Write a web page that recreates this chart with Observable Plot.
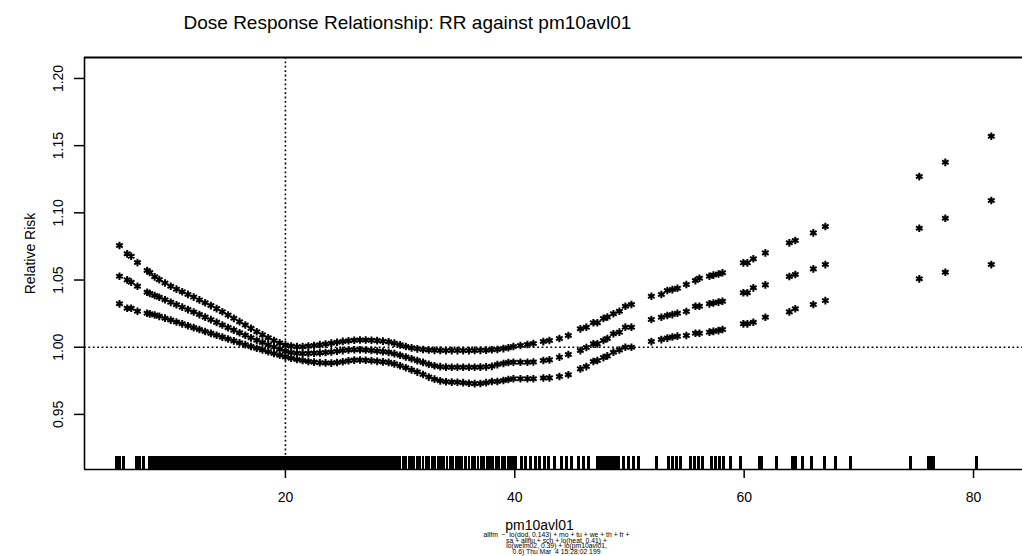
<!DOCTYPE html>
<html><head><meta charset="utf-8">
<script src="https://cdn.jsdelivr.net/npm/d3@7"></script>
<script src="https://cdn.jsdelivr.net/npm/@observablehq/plot@0.6"></script>
<style>
body{margin:0;background:#fff;}
svg{display:block;}
</style>
</head><body><div id="chart"></div>
<script>
// ---- data ----
const pm10 = [5.53, 6.20, 6.55, 7.10, 7.94, 8.17, 8.60,
  9.0, 9.5, 10.0, 10.5, 11.0, 11.5, 12.0, 12.5, 13.0, 13.5, 14.0, 14.5, 15.0, 15.5, 16.0, 16.5, 17.0, 17.5, 18.0, 18.5,
  19.0, 19.5, 20.0, 20.5, 21.0, 21.5, 22.0, 22.5, 23.0, 23.5, 24.0, 24.5, 25.0, 25.5, 26.0, 26.5, 27.0, 27.5, 28.0, 28.5,
  29.0, 29.5, 30.0, 30.5, 31.0, 31.5, 32.0, 32.5, 33.0, 33.5, 34.0, 34.5, 35.0, 35.5, 36.0, 36.5, 37.0, 37.5, 38.0,
  38.48, 39.01, 39.44, 39.88, 40.49, 41.10, 41.62, 42.49, 43.02, 43.89, 44.67, 45.72, 46.24, 46.85, 47.20, 47.73, 48.07,
  48.60, 49.12, 49.64, 50.17, 51.91, 52.78, 53.30, 53.74, 54.18, 54.96, 55.75, 56.10, 56.97, 57.32, 57.76, 58.11, 59.93,
  60.28, 60.80, 61.85, 63.94, 64.46, 66.03, 67.08, 75.27, 77.54, 81.55];

const rrUpper = [1.0757, 1.0695, 1.0677, 1.0630, 1.0571, 1.0556, 1.0524,
  1.0503, 1.0478, 1.0454, 1.0432, 1.0413, 1.0393, 1.0373, 1.0352, 1.0331, 1.0310, 1.0287, 1.0264, 1.0240, 1.0215, 1.0190, 1.0165, 1.0140, 1.0115, 1.0092, 1.0070,
  1.0049, 1.0032, 1.0017, 1.0008, 1.0004, 1.0004, 1.0008, 1.0013, 1.0019, 1.0024, 1.0030, 1.0037, 1.0043, 1.0048, 1.0052, 1.0054, 1.0054, 1.0052, 1.0049, 1.0045,
  1.0040, 1.0030, 1.0018, 1.0005, 0.9995, 0.9988, 0.9983, 0.9979, 0.9977, 0.9976, 0.9975, 0.9975, 0.9975, 0.9975, 0.9975, 0.9976, 0.9977, 0.9978, 0.9981,
  0.9983, 0.9990, 0.9996, 1.0005, 1.0013, 1.0020, 1.0028, 1.0042, 1.0050, 1.0065, 1.0087, 1.0137, 1.0149, 1.0182, 1.0182, 1.0214, 1.0225,
  1.0249, 1.0268, 1.0305, 1.0318, 1.0379, 1.0392, 1.0422, 1.0429, 1.0439, 1.0467, 1.0496, 1.0513, 1.0528, 1.0537, 1.0545, 1.0554, 1.0628,
  1.0628, 1.0658, 1.0702, 1.0777, 1.0794, 1.0851, 1.0898, 1.1270, 1.1376, 1.1570];

const rrFit = [1.0528, 1.0501, 1.0484, 1.0454, 1.0409, 1.0400, 1.0385,
  1.0372, 1.0353, 1.0334, 1.0316, 1.0298, 1.0280, 1.0262, 1.0243, 1.0224, 1.0205, 1.0185, 1.0165, 1.0146, 1.0127, 1.0108, 1.0089, 1.0070, 1.0052, 1.0035, 1.0018,
  1.0001, 0.9985, 0.9970, 0.9960, 0.9955, 0.9953, 0.9954, 0.9956, 0.9958, 0.9961, 0.9965, 0.9970, 0.9975, 0.9979, 0.9981, 0.9981, 0.9979, 0.9976, 0.9972, 0.9967,
  0.9962, 0.9952, 0.9940, 0.9927, 0.9914, 0.9900, 0.9887, 0.9873, 0.9862, 0.9855, 0.9852, 0.9851, 0.9851, 0.9851, 0.9851, 0.9851, 0.9852, 0.9854, 0.9858,
  0.9871, 0.9879, 0.9886, 0.9888, 0.9888, 0.9888, 0.9890, 0.9901, 0.9906, 0.9926, 0.9946, 0.9975, 0.9998, 1.0025, 1.0025, 1.0050, 1.0065,
  1.0100, 1.0112, 1.0149, 1.0149, 1.0206, 1.0223, 1.0236, 1.0243, 1.0253, 1.0266, 1.0305, 1.0305, 1.0323, 1.0329, 1.0336, 1.0342, 1.0405,
  1.0405, 1.0442, 1.0464, 1.0526, 1.0541, 1.0583, 1.0615, 1.0885, 1.0960, 1.1092];

const rrLower = [1.0323, 1.0290, 1.0290, 1.0268, 1.0253, 1.0248, 1.0240,
  1.0230, 1.0216, 1.0202, 1.0188, 1.0174, 1.0160, 1.0146, 1.0132, 1.0117, 1.0103, 1.0089, 1.0075, 1.0061, 1.0047, 1.0033, 1.0019, 1.0005, 0.9992, 0.9979, 0.9966,
  0.9953, 0.9940, 0.9928, 0.9918, 0.9909, 0.9901, 0.9894, 0.9889, 0.9885, 0.9883, 0.9882, 0.9886, 0.9892, 0.9899, 0.9904, 0.9905, 0.9903, 0.9899, 0.9895, 0.9891,
  0.9887, 0.9876, 0.9862, 0.9847, 0.9831, 0.9815, 0.9797, 0.9778, 0.9762, 0.9750, 0.9743, 0.9740, 0.9739, 0.9736, 0.9732, 0.9729, 0.9730, 0.9736, 0.9745,
  0.9745, 0.9752, 0.9760, 0.9765, 0.9765, 0.9765, 0.9765, 0.9771, 0.9772, 0.9782, 0.9795, 0.9839, 0.9856, 0.9894, 0.9901, 0.9923, 0.9935,
  0.9963, 0.9979, 1.0000, 1.0000, 1.0042, 1.0057, 1.0068, 1.0076, 1.0082, 1.0087, 1.0104, 1.0104, 1.0112, 1.0118, 1.0124, 1.0132, 1.0174,
  1.0174, 1.0186, 1.0223, 1.0263, 1.0286, 1.0318, 1.0347, 1.0509, 1.0558, 1.0615];

const rugPm10 = [5.27, 5.53, 5.88, 7.01, 7.27, 7.62, 8.14, 8.40, 8.67, 8.85,
  9.0, 9.2, 9.4, 9.6, 9.8, 10.0, 10.2, 10.4, 10.6, 10.8, 11.0, 11.2, 11.4, 11.6, 11.8, 12.0, 12.2, 12.4, 12.6, 12.8,
  13.0, 13.2, 13.4, 13.6, 13.8, 14.0, 14.2, 14.4, 14.6, 14.8, 15.0, 15.2, 15.4, 15.6, 15.8, 16.0, 16.2, 16.4, 16.6, 16.8,
  17.0, 17.2, 17.4, 17.6, 17.8, 18.0, 18.2, 18.4, 18.6, 18.8, 19.0, 19.2, 19.4, 19.6, 19.8, 20.0, 20.2, 20.4, 20.6, 20.8,
  21.0, 21.2, 21.4, 21.6, 21.8, 22.0, 22.2, 22.4, 22.6, 22.8, 23.0, 23.2, 23.4, 23.6, 23.8, 24.0, 24.2, 24.4, 24.6, 24.8,
  25.0, 25.2, 25.4, 25.6, 25.8, 26.0, 26.2, 26.4, 26.6, 26.8, 27.0, 27.2, 27.4, 27.6, 27.8, 28.0, 28.2, 28.4, 28.6, 28.8,
  29.0, 29.2, 29.4, 29.6, 29.8, 30.0, 30.3, 30.5, 30.8, 31.0, 31.2, 31.5, 31.7, 32.0, 32.3, 32.5, 32.8, 33.0, 33.3, 33.5,
  33.8, 34.1, 34.4, 34.6, 34.9, 35.2, 35.4, 35.7, 36.0, 36.3, 36.5, 36.8, 37.1, 37.3, 37.6, 37.9, 38.1, 38.4, 38.6, 38.9,
  39.1, 39.4, 39.6, 39.9, 40.1,
  40.57, 40.92, 41.36, 41.79, 42.14, 42.58, 42.93, 43.45, 44.06, 44.50, 44.94, 45.55, 45.99, 46.42, 47.20, 47.46, 47.73,
  47.99, 48.25, 48.51, 48.77, 49.04, 49.47, 49.91, 50.35, 50.78, 52.35, 53.40, 53.74, 54.09, 54.44, 55.31, 55.66, 56.01,
  56.36, 57.14, 57.49, 57.84, 58.19, 58.80, 59.67, 61.33, 61.50, 62.81, 64.20, 64.46, 65.07, 65.86, 66.99, 67.95, 69.26,
  74.49, 76.06, 76.32, 76.49, 80.24];

const yTicks = [0.95, 1.00, 1.05, 1.10, 1.15, 1.20];
const xTicks = [20, 40, 60, 80];
const refRR = [1];
const refPm10 = [20];
const titleText = ["Dose Response Relationship: RR against pm10avl01"];
const xLabel = ["pm10avl01"];
const yLabel = ["Relative Risk"];
const captionLines = [
  "allfm  ~  lo(dod, 0.143) + mo + tu + we + th + fr +",
  "sa + allflu + sch + lo(heat, 0.41) +",
  "lo(welm02, 0.39) + lo(pm10avl01,",
  "0.6) Thu Mar  4 15:28:02 199"
];

// ---- build ----
const rows = pm10.flatMap((x, i) => [
  {x, rr: rrUpper[i]}, {x, rr: rrFit[i]}, {x, rr: rrLower[i]}
]);
const xDomain = [2.48, 84.27];
const yDomain = [0.909, 1.2156];
const fmt2 = d3.format(".2f");

const chart = Plot.plot({
  width: 1022, height: 556,
  marginLeft: 84, marginRight: 0, marginTop: 57, marginBottom: 87,
  style: {fontFamily: "'Liberation Sans', Arial, Helvetica, sans-serif", background: "#fff", color: "#000", overflow: "visible"},
  x: {domain: xDomain, axis: null},
  y: {domain: yDomain, axis: null},
  marks: [
    // frame (top, left, bottom)
    Plot.ruleY([yDomain[1]], {stroke: "#000", strokeWidth: 2}),
    Plot.ruleX([xDomain[0]], {stroke: "#000", strokeWidth: 1.6}),
    Plot.ruleY([yDomain[0]], {stroke: "#000", strokeWidth: 1.5}),
    // dotted reference lines
    Plot.ruleY(refRR, {stroke: "#000", strokeWidth: 1.6, strokeDasharray: "1.8,2.6"}),
    Plot.ruleX(refPm10, {stroke: "#000", strokeWidth: 1.6, strokeDasharray: "1.8,2.6"}),
    // rug
    Plot.ruleX(rugPm10, {x: d => d, insetTop: 399, stroke: "#000", strokeWidth: 2.6, shapeRendering: "crispEdges"}),
    // estimates and bands as asterisks
    Plot.dot(rows, {x: "x", y: "rr", symbol: "asterisk", r: 3.6, stroke: "#000", strokeWidth: 2}),
    // axis ticks
    Plot.ruleY(yTicks, {y: d => d, insetLeft: -10, insetRight: 938, stroke: "#000", strokeWidth: 1.5}),
    Plot.ruleX(xTicks, {x: d => d, insetTop: 412, insetBottom: -9, stroke: "#000", strokeWidth: 1.5}),
    Plot.text(yTicks, {y: d => d, text: d => fmt2(d), frameAnchor: "left", dx: -26, rotate: -90, textAnchor: "middle", lineAnchor: "middle", fontSize: 14, fill: "#000"}),
    Plot.text(xTicks, {x: d => d, text: d => String(d), frameAnchor: "bottom", dy: 28, textAnchor: "middle", lineAnchor: "middle", fontSize: 14, fill: "#000"}),
    // labels
    Plot.text(titleText, {frameAnchor: "top-left", dx: 99, dy: -35, textAnchor: "start", lineAnchor: "middle", fontSize: 19, fill: "#000"}),
    Plot.text(yLabel, {frameAnchor: "left", dx: -54, dy: -10, rotate: -90, textAnchor: "middle", lineAnchor: "middle", fontSize: 14, fill: "#000"}),
    Plot.text(xLabel, {frameAnchor: "bottom-left", dx: 455, dy: 56, textAnchor: "middle", lineAnchor: "middle", fontSize: 14, fill: "#000"}),
    Plot.text([captionLines.join("\n")], {frameAnchor: "bottom-left", dx: 472, dy: 74, textAnchor: "middle", lineAnchor: "middle", fontSize: 6.8, lineHeight: 0.81, fill: "#000"})
  ]
});
document.getElementById("chart").appendChild(chart);
</script>
</body></html>
